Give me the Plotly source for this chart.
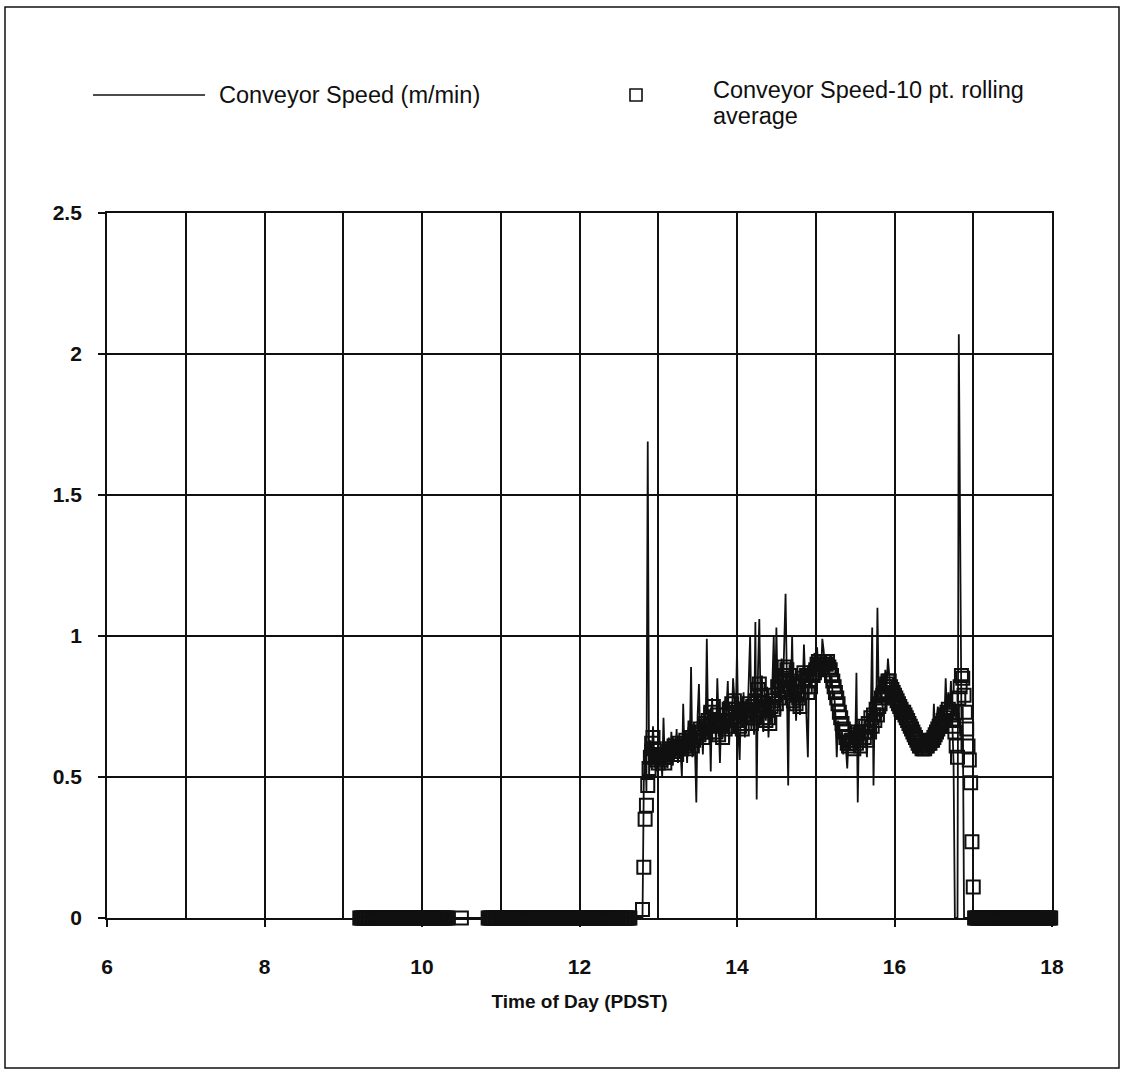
import numpy as np
import plotly.graph_objects as go

# ---------------- data ----------------
MINUTE = 1 / 60.0  # one reading per minute

# Idle periods (conveyor stopped, speed 0): (start hour, number of 1-minute readings)
idle_periods = [(9.21, 68), (10.50, 1), (10.84, 109), (17.017, 62)]
idle_speed = 0.0

# Running period, 1-minute readings starting at 12:48
active_start = 12.80
speed_active = [
    0.00, 0.48, 0.62, 0.45, 1.69, 0.50, 0.63, 0.55, 0.68, 0.57,
    0.60, 0.52, 0.63, 0.54, 0.59, 0.50, 0.71, 0.55, 0.62, 0.53,
    0.64, 0.56, 0.66, 0.54, 0.62, 0.58, 0.67, 0.55, 0.63, 0.59,
    0.50, 0.76, 0.58, 0.66, 0.55, 0.70, 0.60, 0.89, 0.57, 0.65,
    0.60, 0.41, 0.72, 0.83, 0.62, 0.70, 0.58, 0.75, 0.63, 0.99,
    0.66, 0.74, 0.52, 0.78, 0.68, 0.72, 0.63, 0.85, 0.70, 0.55,
    0.72, 0.64, 0.77, 0.66, 0.74, 0.84, 0.62, 0.73, 0.68, 0.85,
    0.78, 0.70, 0.95, 0.66, 0.56, 0.75, 0.68, 0.80, 0.64, 0.77,
    0.70, 0.82, 1.00, 0.68, 0.76, 0.65, 1.05, 0.42, 0.88, 1.06,
    0.74, 0.86, 0.66, 0.78, 0.70, 0.82, 0.64, 0.76, 0.69, 0.84,
    1.00, 0.74, 1.03, 0.78, 0.88, 0.72, 0.92, 0.80, 0.95, 1.15,
    0.84, 0.47, 0.90, 0.78, 1.00, 0.74, 0.86, 0.70, 0.82, 0.76,
    0.72, 0.88, 0.80, 0.97, 0.84, 0.76, 0.57, 0.90, 0.82, 0.92,
    0.86, 0.94, 0.82, 0.96, 0.88, 0.92, 0.85, 0.99, 0.95, 0.88,
    0.93, 0.87, 0.90, 0.82, 0.86, 0.78, 0.80, 0.72, 0.57, 0.70,
    0.68, 0.62, 0.66, 0.58, 0.64, 0.60, 0.53, 0.64, 0.60, 0.66,
    0.62, 0.68, 0.60, 0.87, 0.41, 0.70, 0.62, 0.68, 0.60, 0.66,
    0.64, 0.57, 0.72, 0.66, 0.74, 1.03, 0.47, 0.78, 0.70, 1.10,
    0.78, 0.84, 0.76, 0.86, 0.80, 0.88, 0.82, 0.92, 0.86, 0.80,
    0.82, 0.78, 0.80, 0.76, 0.79, 0.75, 0.77, 0.73, 0.76, 0.72,
    0.73, 0.69, 0.71, 0.67, 0.69, 0.65, 0.67, 0.63, 0.65, 0.61,
    0.63, 0.59, 0.62, 0.58, 0.62, 0.59, 0.63, 0.60, 0.64, 0.61,
    0.66, 0.62, 0.76, 0.64, 0.70, 0.75, 0.66, 0.72, 0.68, 0.74,
    0.70, 0.85, 0.72, 0.80, 0.74, 0.84, 0.70, 0.55, 0.00, 0.00,
    0.00, 2.07, 1.20, 0.70, 0.75, 0.00, 0.00, 0.00, 0.00, 0.00,
    0.00, 0.00, 0.00,
]
rolling_active = [
    0.03, 0.18, 0.35, 0.40, 0.47, 0.53, 0.57, 0.62, 0.64, 0.60,
    0.58, 0.56, 0.55, 0.57, 0.56, 0.58, 0.57, 0.55, 0.57, 0.58,
    0.59, 0.60, 0.58, 0.59, 0.61, 0.60, 0.58, 0.60, 0.62, 0.61,
    0.60, 0.62, 0.61, 0.63, 0.60, 0.62, 0.64, 0.63, 0.61, 0.63,
    0.65, 0.64, 0.66, 0.65, 0.67, 0.66, 0.64, 0.67, 0.69, 0.68,
    0.70, 0.66, 0.73, 0.69, 0.75, 0.70, 0.66, 0.72, 0.65, 0.69,
    0.68, 0.64, 0.70, 0.67, 0.72, 0.68, 0.74, 0.70, 0.76, 0.73,
    0.77, 0.74, 0.70, 0.74, 0.68, 0.71, 0.67, 0.72, 0.69, 0.74,
    0.71, 0.76, 0.72, 0.69, 0.75, 0.71, 0.77, 0.74, 0.81, 0.83,
    0.79, 0.75, 0.71, 0.76, 0.70, 0.74, 0.71, 0.69, 0.75, 0.77,
    0.74, 0.79, 0.76, 0.82, 0.78, 0.84, 0.81, 0.86, 0.89, 0.85,
    0.88, 0.83, 0.86, 0.80, 0.84, 0.77, 0.82, 0.76, 0.79, 0.78,
    0.75, 0.80, 0.85, 0.87, 0.82, 0.86, 0.80, 0.84, 0.82, 0.86,
    0.86, 0.87, 0.88, 0.90, 0.91, 0.90, 0.89, 0.90, 0.91, 0.91,
    0.90, 0.91, 0.89, 0.88, 0.86, 0.84, 0.82, 0.80, 0.78, 0.76,
    0.73, 0.71, 0.69, 0.67, 0.66, 0.64, 0.62, 0.61, 0.62, 0.63,
    0.63, 0.60, 0.65, 0.62, 0.66, 0.63, 0.61, 0.66, 0.68, 0.64,
    0.66, 0.63, 0.69, 0.66, 0.71, 0.68, 0.72, 0.70, 0.74, 0.72,
    0.75, 0.76, 0.78, 0.79, 0.80, 0.82, 0.83, 0.84, 0.84, 0.82,
    0.81, 0.80, 0.79, 0.78, 0.77, 0.76, 0.75, 0.74, 0.73, 0.73,
    0.72, 0.71, 0.70, 0.69, 0.68, 0.67, 0.66, 0.65, 0.64, 0.63,
    0.62, 0.61, 0.61, 0.60, 0.60, 0.60, 0.61, 0.61, 0.62, 0.62,
    0.63, 0.63, 0.64, 0.65, 0.66, 0.67, 0.68, 0.68, 0.69, 0.70,
    0.71, 0.72, 0.73, 0.74, 0.73, 0.72, 0.70, 0.68, 0.66, 0.61,
    0.57, 0.78, 0.82, 0.86, 0.85, 0.79, 0.73, 0.67, 0.61, 0.56,
    0.48, 0.27, 0.11,
]

x_tick_vals = [6, 8, 10, 12, 14, 16, 18]
y_tick_vals = [0, 0.5, 1, 1.5, 2, 2.5]

name_speed = "Conveyor Speed (m/min)"
name_avg = "Conveyor Speed-10 pt. rolling average"
name_avg_lines = ["Conveyor Speed-10 pt. rolling", "average"]

# ---------------- assemble the time series ----------------
pieces = []
for start, n in idle_periods:
    t = start + np.arange(n) * MINUTE
    pieces.append((t, np.full(n, idle_speed), np.full(n, idle_speed)))
t_act = active_start + np.arange(len(speed_active)) * MINUTE
pieces.append((t_act, np.array(speed_active), np.array(rolling_active)))
pieces.sort(key=lambda p: p[0][0])

hours = np.concatenate([p[0] for p in pieces])
speed = np.concatenate([p[1] for p in pieces])
rolling = np.concatenate([p[2] for p in pieces])

# ---------------- figure ----------------
FONT = "Liberation Sans, Arial, Helvetica, sans-serif"
INK = "#101010"

fig = go.Figure()
fig.add_trace(go.Scatter(
    x=hours, y=speed, mode="lines", name=name_speed,
    line=dict(color=INK, width=1.8),
))
fig.add_trace(go.Scatter(
    x=hours, y=rolling, mode="markers", name=name_avg,
    marker=dict(symbol="square-open", size=13, color=INK,
                line=dict(color=INK, width=2.0)),
    cliponaxis=False,
))

# plot area in pixels: x 107..1052, y 213..918
L, R, T, B = 107, 1052, 213, 918
W, H = R - L, B - T


def px(x):
    return (x - L) / W


def py(y):
    return (B - y) / H


fig.update_layout(
    width=1122, height=1078,
    margin=dict(l=L, r=1122 - R, t=T, b=1078 - B, pad=0),
    paper_bgcolor="white", plot_bgcolor="white",
    showlegend=False,
    font=dict(family=FONT, color=INK, size=21),
)
fig.update_xaxes(
    range=[6, 18], tickmode="array", tickvals=x_tick_vals,
    ticktext=[f"<b>{v}</b>" for v in x_tick_vals],
    ticks="outside", ticklen=7, tickwidth=1.6, tickcolor=INK,
    showgrid=True, gridcolor=INK, gridwidth=1.6,
    minor=dict(tickmode="linear", tick0=6, dtick=1, showgrid=True,
               gridcolor=INK, gridwidth=1.6, ticks=""),
    showline=True, linecolor=INK, linewidth=1.8, mirror=True,
    zeroline=False, ticklabelstandoff=22,
    tickfont=dict(size=21),
    title=dict(text="<b>Time of Day (PDST)</b>", font=dict(size=19), standoff=18),
)
fig.update_yaxes(
    range=[0, 2.5], tickmode="array", tickvals=y_tick_vals,
    ticktext=[f"<b>{v:g}</b>" for v in y_tick_vals],
    ticks="outside", ticklen=7, tickwidth=1.6, tickcolor=INK,
    showgrid=True, gridcolor=INK, gridwidth=1.6,
    showline=True, linecolor=INK, linewidth=1.8, mirror=True,
    zeroline=False, ticklabelstandoff=12,
    tickfont=dict(size=21),
)

# outer frame of the figure
fig.add_shape(type="rect", xref="paper", yref="paper",
              x0=px(5), x1=px(1119), y0=py(1068), y1=py(7),
              line=dict(color=INK, width=1.5), fillcolor="rgba(0,0,0,0)")

# legend (drawn manually to match the original layout)
fig.add_shape(type="line", xref="paper", yref="paper",
              x0=px(93), x1=px(205), y0=py(95), y1=py(95),
              line=dict(color=INK, width=1.6))
fig.add_shape(type="rect", xref="paper", yref="paper",
              x0=px(630), x1=px(642), y0=py(101), y1=py(89),
              line=dict(color=INK, width=1.6), fillcolor="white")
fig.add_annotation(xref="paper", yref="paper", x=px(217), y=py(95),
                   text=name_speed, showarrow=False, xanchor="left", yanchor="middle",
                   font=dict(size=23.5, family=FONT, color=INK))
fig.add_annotation(xref="paper", yref="paper", x=px(711), y=py(90),
                   text=name_avg_lines[0], showarrow=False,
                   xanchor="left", yanchor="middle",
                   font=dict(size=23.5, family=FONT, color=INK))
fig.add_annotation(xref="paper", yref="paper", x=px(711), y=py(116),
                   text=name_avg_lines[1], showarrow=False,
                   xanchor="left", yanchor="middle",
                   font=dict(size=23.5, family=FONT, color=INK))

fig.write_html("out.html")
